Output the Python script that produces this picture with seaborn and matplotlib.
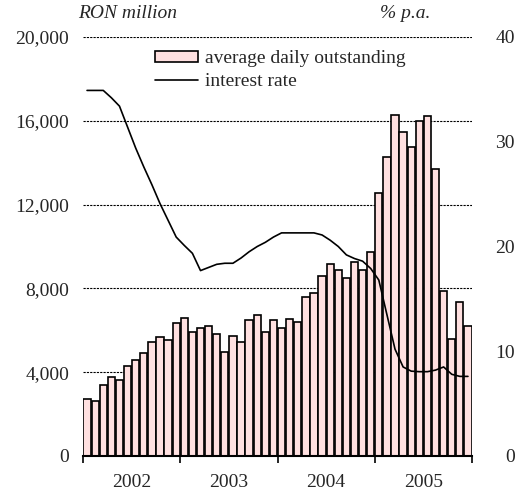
import matplotlib
matplotlib.use('Agg')
import matplotlib.pyplot as plt
from matplotlib.patches import Patch
from matplotlib.lines import Line2D
import seaborn as sns
import pandas as pd
import numpy as np

# ---- data ----
months = pd.date_range('2002-01', periods=48, freq='MS').strftime('%Y-%m').tolist()
outstanding = [2710, 2640, 3390, 3770, 3640, 4300, 4600, 4930, 5460, 5680, 5540, 6360,
               6600, 5920, 6120, 6220, 5840, 4980, 5740, 5460, 6510, 6750, 5920, 6510,
               6130, 6520, 6390, 7600, 7760, 8590, 9180, 8890, 8510, 9270, 8890, 9750,
               12570, 14260, 16290, 15480, 14760, 16000, 16240, 13710, 7890, 5570, 7370, 6220]
interest_rate = [34.9, 34.9, 34.9, 34.2, 33.4, 31.4, 29.4, 27.6, 25.9, 24.1, 22.5, 20.9,
                 20.1, 19.35, 17.7, 18.0, 18.3, 18.4, 18.4, 18.9, 19.5, 20.0, 20.4, 20.9,
                 21.3, 21.3, 21.3, 21.3, 21.3, 21.1, 20.6, 20.0, 19.2, 18.85, 18.6, 17.9,
                 16.8, 13.5, 10.2, 8.5, 8.1, 8.05, 8.05, 8.2, 8.5, 7.8, 7.6, 7.6]
years = ['2002', '2003', '2004', '2005']
left_ticks = [0, 4000, 8000, 12000, 16000, 20000]
right_ticks = [0, 10, 20, 30, 40]
bar_label = 'average daily outstanding'
line_label = 'interest rate'

df = pd.DataFrame({'month': months, 'outstanding': outstanding, 'rate': interest_rate})

sns.set_style('white')
plt.rcParams['font.family'] = ['Liberation Serif', 'DejaVu Serif']
FS = 14
plt.rcParams['font.size'] = FS

W, H = 527, 496
fig = plt.figure(figsize=(W / 100, H / 100), dpi=100)
ax = fig.add_axes([83 / W, 40 / H, 389 / W, 419 / H])

pink = '#FFE0E0'
sns.barplot(data=df, x='month', y='outstanding', ax=ax, color=pink, saturation=1,
            edgecolor='black', linewidth=1.2, width=0.9, zorder=2)

ax.set_xlim(-0.5, len(months) - 0.5)
ax.set_ylim(0, 20000)
ax.set_yticks(left_ticks)
ax.set_yticklabels([f'{v:,}' for v in left_ticks])
ax.yaxis.grid(True, linestyle=(0, (2, 1)), color='black', linewidth=0.8)
ax.set_axisbelow(True)
ax.set_xlabel('')
ax.set_ylabel('')

# x ticks: year boundaries with marks, labels at year centres
n_years = len(years)
ax.set_xticks([i * 12 - 0.5 for i in range(n_years + 1)])
ax.set_xticklabels([''] * (n_years + 1))
ax.set_xticks([i * 12 + 5.5 for i in range(n_years)], minor=True)
ax.set_xticklabels(years, minor=True)
ax.tick_params(axis='x', which='major', direction='out', length=5, width=1.2, color='black', bottom=True)
ax.tick_params(axis='x', which='minor', length=0, pad=13, labelsize=FS)
ax.tick_params(axis='y', length=0, pad=10, labelsize=FS)

for s in ['top', 'left', 'right']:
    ax.spines[s].set_visible(False)
ax.spines['bottom'].set_color('black')
ax.spines['bottom'].set_linewidth(1.5)

ax2 = ax.twinx()
sns.lineplot(x=np.arange(len(months)), y=interest_rate, ax=ax2, color='black', linewidth=1.2)
ax2.set_ylim(0, 40)
ax2.set_yticks(right_ticks)
ax2.set_yticklabels([str(v) for v in right_ticks])
ax2.tick_params(axis='y', length=0, pad=31, labelsize=FS)
for tl in ax2.get_yticklabels():
    tl.set_horizontalalignment('right')
for s in ax2.spines.values():
    s.set_visible(False)
ax2.set_xlim(-0.5, len(months) - 0.5)
ax2.set_ylabel('')

handles = [Patch(facecolor=pink, edgecolor='black', linewidth=1.2),
           Line2D([0], [0], color='black', linewidth=1.2)]
ax2.legend(handles, [bar_label, line_label], loc='upper left',
           bbox_to_anchor=(155 / W, 1 - 50 / H), bbox_transform=fig.transFigure,
           frameon=False, borderpad=0, handlelength=2.2, handleheight=0.5,
           handletextpad=0.35, labelspacing=0.3, borderaxespad=0, fontsize=FS)

fig.text(78 / W, 1 - 13 / H, 'RON million', style='italic', ha='left', va='center', fontsize=FS)
fig.text(430 / W, 1 - 13 / H, '% p.a.', style='italic', ha='right', va='center', fontsize=FS)

fig.savefig('out.png', dpi=100)
